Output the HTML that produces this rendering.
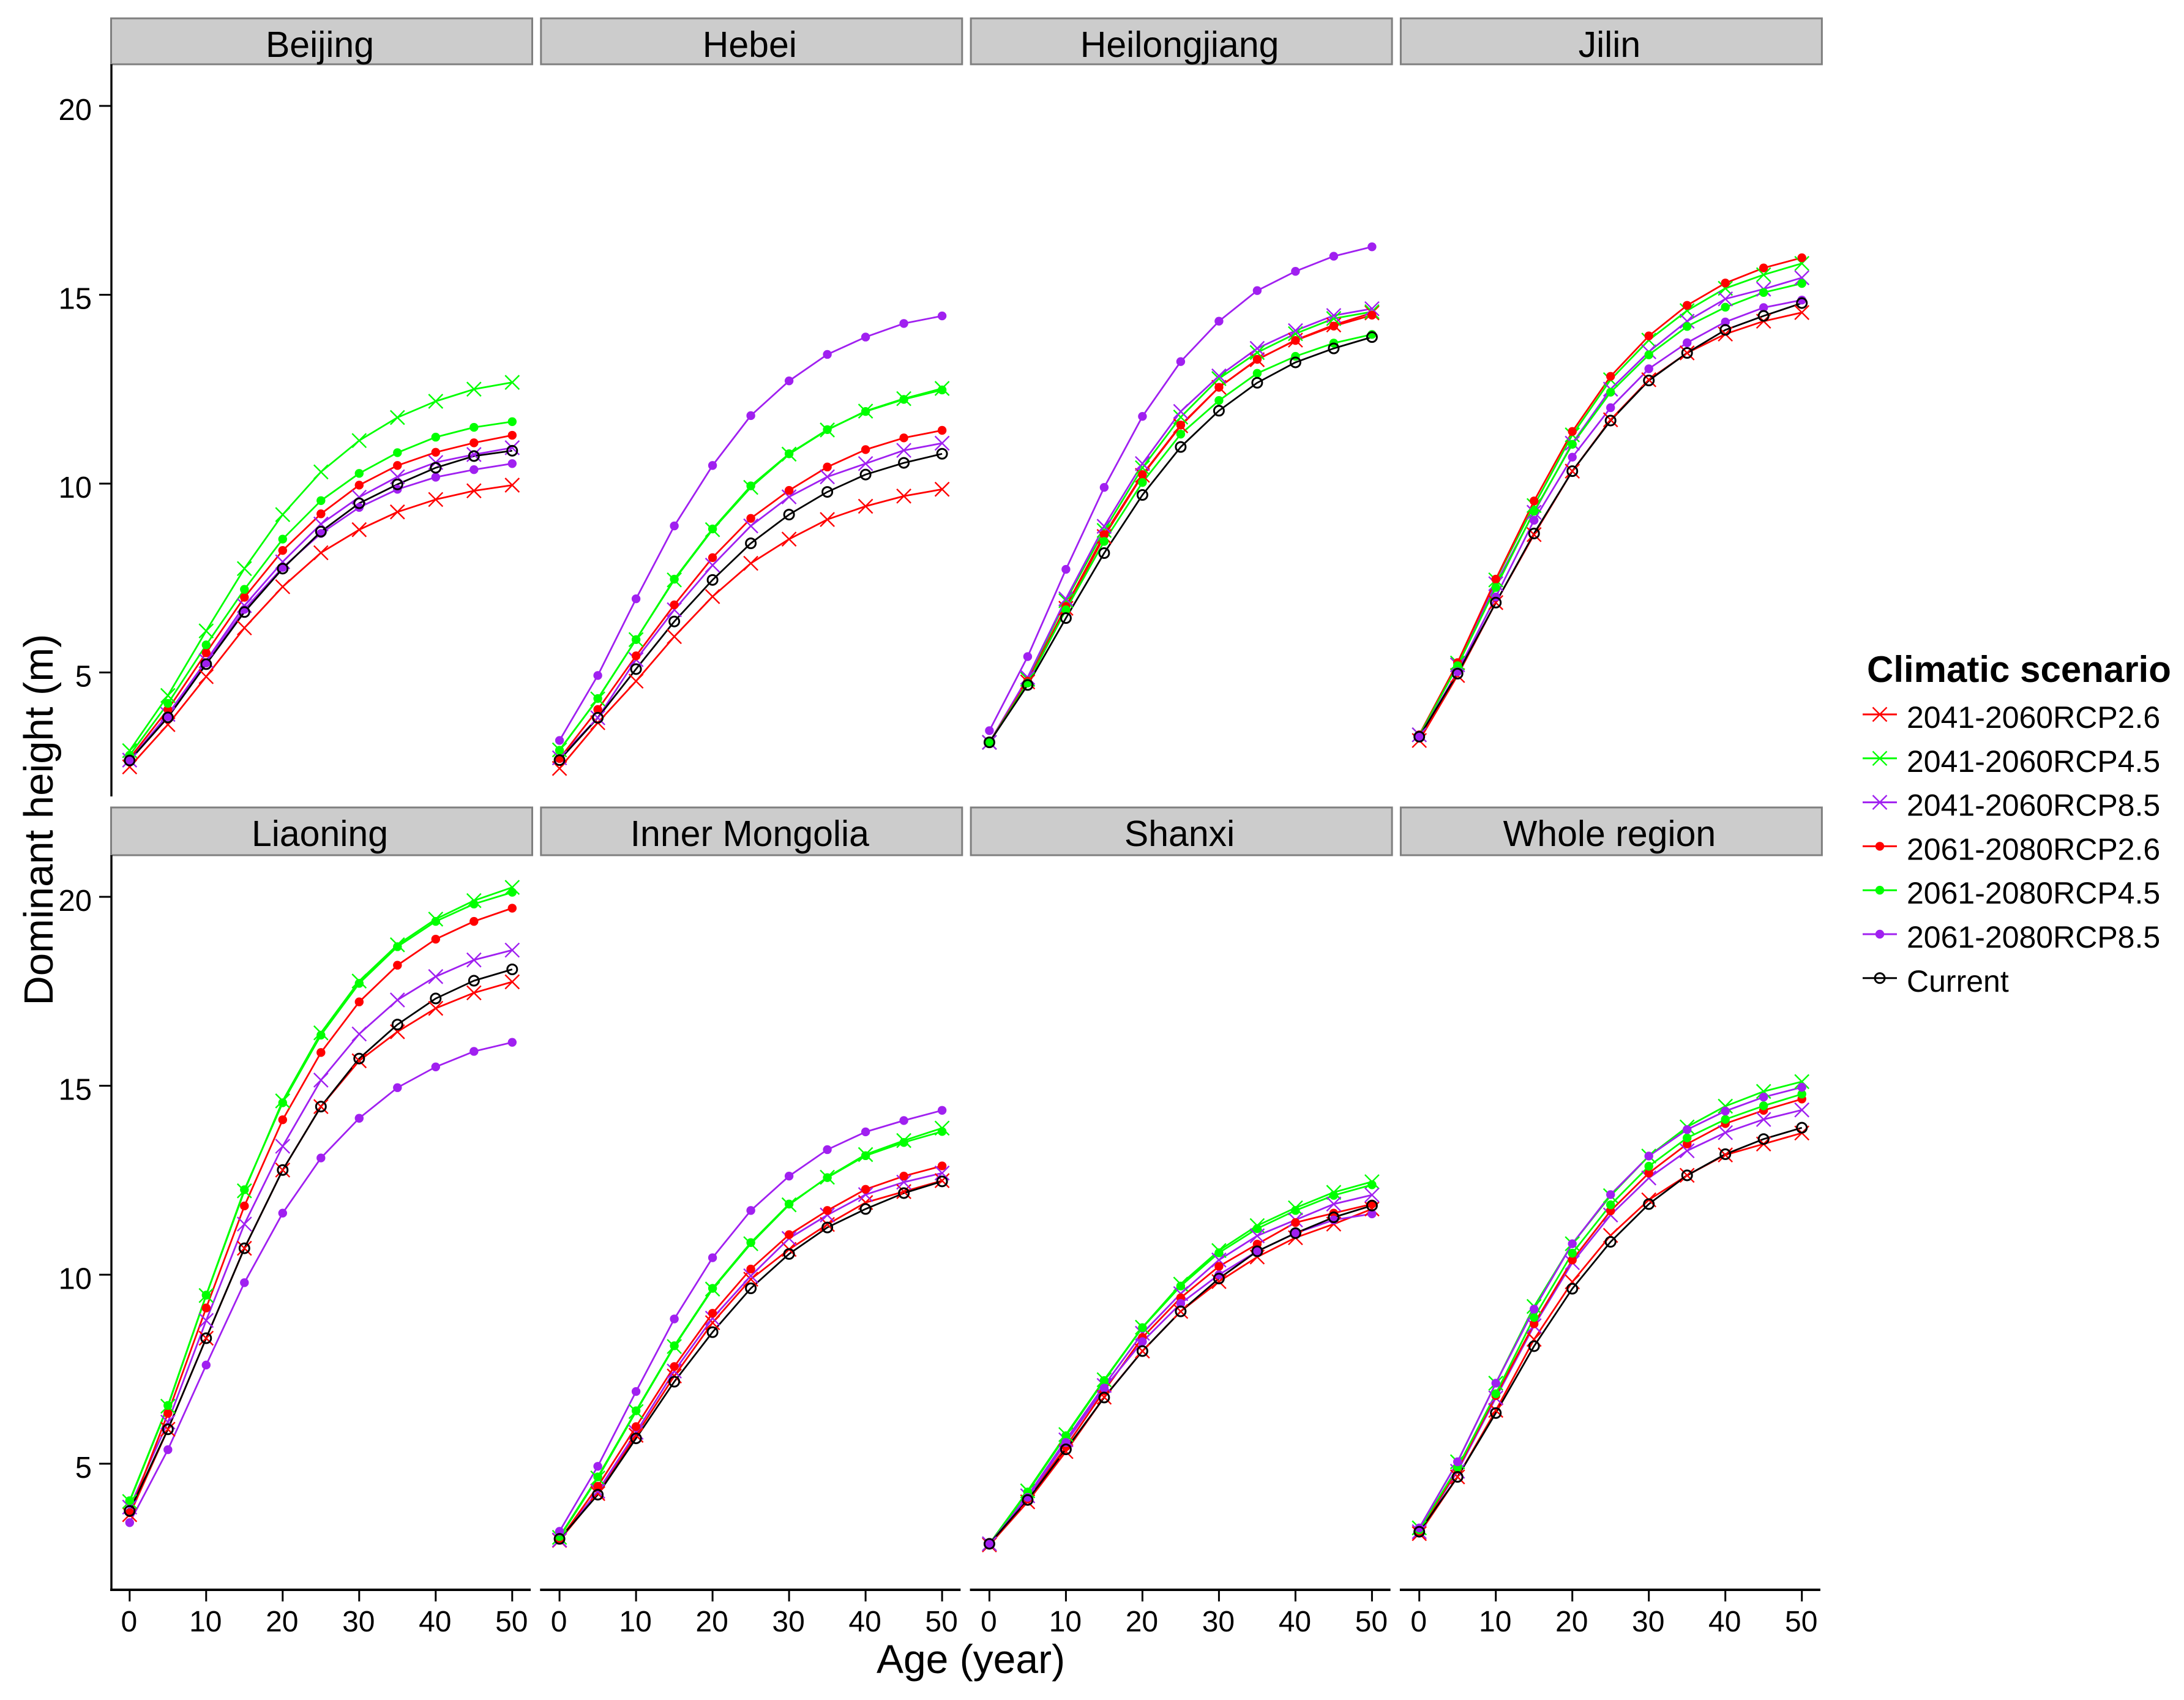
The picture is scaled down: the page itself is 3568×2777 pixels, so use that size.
<!DOCTYPE html>
<html lang="en">
<head>
<meta charset="utf-8">
<title>Dominant height by age and climatic scenario</title>
<style>
html,body{margin:0;padding:0;background:#fff;}
svg{display:block;font-family:"Liberation Sans",Arial,sans-serif;}
</style>
</head>
<body>
<svg id="chart" xmlns="http://www.w3.org/2000/svg" width="3568" height="2777" viewBox="0 0 3568 2777"></svg>
<script>
const ages = [0,5,10,15,20,25,30,35,40,45,50];
const xTickLabels = [0,10,20,30,40,50];
const yTickLabels = [5,10,15,20];
const panelNames = ["Beijing","Hebei","Heilongjiang","Jilin","Liaoning","Inner Mongolia","Shanxi","Whole region"];
const scenarioNames = ["2041-2060RCP2.6","2041-2060RCP4.5","2041-2060RCP8.5","2061-2080RCP2.6","2061-2080RCP4.5","2061-2080RCP8.5","Current"];

const beijing41_26 = [2.5,3.62,4.89,6.18,7.27,8.17,8.78,9.25,9.58,9.81,9.96];
const beijing41_45 = [2.93,4.39,6.1,7.75,9.18,10.31,11.14,11.75,12.18,12.5,12.68];
const beijing41_85 = [2.68,3.89,5.31,6.77,7.93,8.93,9.64,10.18,10.56,10.77,10.95];
const beijing61_26 = [2.73,4.02,5.52,6.99,8.23,9.2,9.96,10.48,10.83,11.08,11.28];
const beijing61_45 = [2.81,4.18,5.73,7.2,8.53,9.55,10.27,10.82,11.23,11.49,11.64];
const beijing61_85 = [2.67,3.83,5.25,6.67,7.78,8.68,9.37,9.85,10.17,10.37,10.53];
const beijingNow   = [2.67,3.81,5.22,6.6,7.75,8.73,9.48,9.98,10.42,10.73,10.87];

const hebei41_26 = [2.46,3.67,4.77,5.95,7.01,7.89,8.53,9.05,9.4,9.67,9.85];
const hebei41_45 = [2.95,4.3,5.87,7.45,8.78,9.9,10.78,11.42,11.92,12.25,12.52];
const hebei41_85 = [2.74,3.8,5.34,6.66,7.84,8.88,9.65,10.18,10.53,10.88,11.07];
const hebei61_26 = [2.72,4.02,5.44,6.79,8.04,9.08,9.82,10.44,10.9,11.21,11.41];
const hebei61_45 = [2.94,4.31,5.87,7.47,8.8,9.94,10.79,11.43,11.91,12.23,12.48];
const hebei61_85 = [3.2,4.92,6.95,8.88,10.48,11.8,12.72,13.42,13.88,14.24,14.44];
const hebeiNow   = [2.68,3.8,5.09,6.35,7.45,8.42,9.18,9.78,10.24,10.55,10.79];

const heilong41_26 = [3.15,4.75,6.7,8.6,10.22,11.53,12.55,13.28,13.8,14.2,14.52];
const heilong41_45 = [3.15,4.82,6.9,8.76,10.42,11.76,12.78,13.47,13.97,14.37,14.55];
const heilong41_85 = [3.15,4.87,6.95,8.87,10.53,11.91,12.85,13.58,14.05,14.45,14.63];
const heilong61_26 = [3.15,4.77,6.75,8.65,10.24,11.55,12.55,13.29,13.79,14.17,14.46];
const heilong61_45 = [3.15,4.72,6.66,8.47,10.03,11.31,12.2,12.92,13.37,13.72,13.95];
const heilong61_85 = [3.46,5.42,7.73,9.9,11.78,13.23,14.3,15.11,15.62,16.02,16.27];
const heilongNow   = [3.15,4.67,6.44,8.16,9.7,10.97,11.93,12.67,13.21,13.58,13.88];

const jilin41_26 = [3.2,4.92,6.85,8.65,10.33,11.69,12.75,13.46,13.96,14.3,14.53];
const jilin41_45 = [3.35,5.25,7.45,9.42,11.29,12.75,13.8,14.58,15.17,15.53,15.83];
const jilin41_85 = [3.35,5.2,7.35,9.24,11.07,12.5,13.49,14.3,14.89,15.15,15.45];
const jilin61_26 = [3.35,5.26,7.47,9.54,11.38,12.84,13.91,14.72,15.31,15.71,15.98];
const jilin61_45 = [3.33,5.18,7.25,9.27,11.04,12.42,13.41,14.16,14.67,15.06,15.3];
const jilin61_85 = [3.3,5.02,7.0,9.03,10.7,12.01,13.04,13.73,14.28,14.66,14.86];
const jilinNow   = [3.3,4.97,6.85,8.68,10.33,11.67,12.73,13.46,14.07,14.44,14.78];

const liaoning41_26 = [3.65,5.91,8.32,10.7,12.77,14.45,15.66,16.43,17.05,17.46,17.75];
const liaoning41_45 = [4.0,6.52,9.45,12.22,14.6,16.4,17.77,18.73,19.41,19.9,20.25];
const liaoning41_85 = [3.85,6.1,8.79,11.34,13.4,15.15,16.37,17.27,17.89,18.33,18.59];
const liaoning61_26 = [3.7,6.33,9.12,11.82,14.1,15.88,17.22,18.19,18.88,19.35,19.7];
const liaoning61_45 = [4.02,6.54,9.46,12.25,14.55,16.34,17.71,18.68,19.35,19.81,20.12];
const liaoning61_85 = [3.44,5.37,7.61,9.79,11.63,13.09,14.14,14.95,15.5,15.91,16.15];
const liaoningNow   = [3.75,5.91,8.32,10.7,12.77,14.45,15.72,16.62,17.31,17.78,18.08];

const mongolia41_26 = [2.97,4.21,5.75,7.32,8.73,9.88,10.67,11.33,11.91,12.2,12.49];
const mongolia41_45 = [3.05,4.62,6.38,8.1,9.62,10.82,11.85,12.58,13.18,13.55,13.88];
const mongolia41_85 = [2.98,4.27,5.83,7.45,8.85,9.97,10.96,11.58,12.12,12.45,12.69];
const mongolia61_26 = [2.98,4.4,5.98,7.57,8.98,10.15,11.06,11.7,12.26,12.61,12.88];
const mongolia61_45 = [3.07,4.65,6.4,8.12,9.64,10.85,11.87,12.57,13.15,13.5,13.79];
const mongolia61_85 = [3.21,4.93,6.91,8.83,10.45,11.7,12.61,13.31,13.78,14.08,14.35];
const mongoliaNow   = [3.01,4.18,5.67,7.17,8.48,9.64,10.55,11.25,11.74,12.16,12.47];

const shanxi41_26 = [2.85,3.99,5.32,6.76,7.98,9.03,9.82,10.47,10.98,11.34,11.74];
const shanxi41_45 = [2.88,4.28,5.77,7.22,8.61,9.75,10.64,11.3,11.77,12.18,12.46];
const shanxi41_85 = [2.88,4.15,5.63,7.07,8.45,9.5,10.39,11.03,11.45,11.87,12.11];
const shanxi61_26 = [2.88,4.07,5.45,6.93,8.34,9.39,10.22,10.81,11.38,11.63,11.87];
const shanxi61_45 = [2.88,4.25,5.74,7.2,8.6,9.7,10.58,11.22,11.7,12.1,12.38];
const shanxi61_85 = [2.88,4.11,5.56,7.0,8.23,9.24,10.0,10.62,11.1,11.45,11.61];
const shanxiNow   = [2.88,4.04,5.38,6.75,7.98,9.03,9.9,10.62,11.1,11.52,11.83];

const whole41_26 = [3.15,4.65,6.41,8.29,9.81,11.04,11.98,12.63,13.17,13.46,13.75];
const whole41_45 = [3.3,5.05,7.13,9.16,10.82,12.09,13.14,13.91,14.46,14.85,15.11];
const whole41_85 = [3.2,4.8,6.74,8.65,10.32,11.58,12.56,13.28,13.76,14.11,14.36];
const whole61_26 = [3.2,4.85,6.8,8.7,10.39,11.69,12.69,13.46,14.0,14.35,14.65];
const whole61_45 = [3.25,4.9,6.85,8.87,10.57,11.85,12.87,13.62,14.11,14.47,14.78];
const whole61_85 = [3.3,5.05,7.13,9.09,10.82,12.12,13.14,13.84,14.33,14.7,14.96];
const wholeNow   = [3.2,4.65,6.34,8.11,9.63,10.87,11.87,12.63,13.19,13.59,13.89];

const panelSeries = [
  [beijing41_26,beijing41_45,beijing41_85,beijing61_26,beijing61_45,beijing61_85,beijingNow],
  [hebei41_26,hebei41_45,hebei41_85,hebei61_26,hebei61_45,hebei61_85,hebeiNow],
  [heilong41_26,heilong41_45,heilong41_85,heilong61_26,heilong61_45,heilong61_85,heilongNow],
  [jilin41_26,jilin41_45,jilin41_85,jilin61_26,jilin61_45,jilin61_85,jilinNow],
  [liaoning41_26,liaoning41_45,liaoning41_85,liaoning61_26,liaoning61_45,liaoning61_85,liaoningNow],
  [mongolia41_26,mongolia41_45,mongolia41_85,mongolia61_26,mongolia61_45,mongolia61_85,mongoliaNow],
  [shanxi41_26,shanxi41_45,shanxi41_85,shanxi61_26,shanxi61_45,shanxi61_85,shanxiNow],
  [whole41_26,whole41_45,whole41_85,whole61_26,whole61_45,whole61_85,wholeNow]
];

const NS = "http://www.w3.org/2000/svg";
const svg = document.getElementById("chart");
const colors = ["#ff0000","#00ff00","#a020f0","#ff0000","#00ff00","#a020f0","#000000"];
const shapes = ["x","x","x","dot","dot","dot","circle"];

function make(tag, attrs, parent, text){
  const n = document.createElementNS(NS, tag);
  for (const k in attrs) n.setAttribute(k, attrs[k]);
  if (text !== undefined) n.textContent = text;
  (parent || svg).appendChild(n);
  return n;
}
function slug(s){ return s.toLowerCase().replace(/[^a-z0-9]+/g,"-"); }
function panelLeft(col){ return 182 + 702.3*col; }
function xScale(col, age){ return panelLeft(col) + 29.8 + 12.5*age; }
function yScale(row, v){ return row === 0 ? 173 + (20-v)*61.7 : 1465 + (20-v)*61.73; }

function drawMarker(parent, shape, cx, cy, color, scenario){
  let g;
  if (shape === "x"){
    const a = 11.5;
    g = make("path", {d:`M${cx-a} ${cy-a}L${cx+a} ${cy+a}M${cx-a} ${cy+a}L${cx+a} ${cy-a}`, stroke:color, "stroke-width":2.4, fill:"none"}, parent);
  } else if (shape === "dot"){
    g = make("circle", {cx:cx, cy:cy, r:7.2, fill:color}, parent);
  } else {
    g = make("circle", {cx:cx, cy:cy, r:8, fill:"none", stroke:color, "stroke-width":3}, parent);
  }
  
  
}

const panelRows = [0,0,0,0,1,1,1,1];
const stripTop = [30,1319];
const stripH = [75,78];
const textBase = [93,1382];
const panelTop = [105,1397];
const panelBottom = [1301,2597];

panelNames.forEach(function(name, i){
  const col = i % 4;
  const row = panelRows[i];
  const L = panelLeft(col);
  const panel = make("g", {});
  
  

  const strip = make("rect", {x:L-0.5, y:stripTop[row], width:688, height:stripH[row], fill:"#cccccc", stroke:"#7f7f7f", "stroke-width":3}, panel);
  
  

  const title = make("text", {x:L+340.5, y:textBase[row], "text-anchor":"middle", "font-size":59, fill:"#000"}, panel, name);
  
  

  if (col === 0){
    const yAxis = make("line", {x1:L, x2:L, y1:panelTop[row], y2:panelBottom[row]+(row===1?2:0), stroke:"#000", "stroke-width":3.4}, panel);
    
    
    yTickLabels.forEach(function(t){
      const y = yScale(row, t);
      const tick = make("line", {x1:L-20, x2:L, y1:y, y2:y, stroke:"#000", "stroke-width":3}, panel);
      
      
      const lab = make("text", {x:150, y:y+23, "text-anchor":"end", "font-size":49, fill:"#000"}, panel, String(t));
      
      
    });
  }

  if (row === 1){
    const xAxis = make("line", {x1:L-2, x2:L+685, y1:2597, y2:2597, stroke:"#000", "stroke-width":4}, panel);
    
    
    xTickLabels.forEach(function(t){
      const x = xScale(col, t);
      const tick = make("line", {x1:x, x2:x, y1:2597, y2:2616, stroke:"#000", "stroke-width":3}, panel);
      
      
      const lab = make("text", {x:x-1, y:2665, "text-anchor":"middle", "font-size":48, fill:"#000"}, panel, String(t));
      
      
    });
  }

  panelSeries[i].forEach(function(vals, s){
    const pts = vals.map(function(v, k){ return xScale(col, ages[k]).toFixed(1) + "," + yScale(row, v).toFixed(1); }).join(" ");
    const line = make("polyline", {points:pts, fill:"none", stroke:colors[s], "stroke-width":2.8, "stroke-linejoin":"round"}, panel);
    
    
  });
  panelSeries[i].forEach(function(vals, s){
    vals.forEach(function(v, k){
      drawMarker(panel, shapes[s], xScale(col, ages[k]), yScale(row, v), colors[s], scenarioNames[s]);
    });
  });
});

const yTitle = make("text", {transform:"translate(86,1339) rotate(-90)", "text-anchor":"middle", "font-size":67, fill:"#000"}, svg, "Dominant height (m)");



const xTitle = make("text", {x:1586, y:2733, "text-anchor":"middle", "font-size":66, fill:"#000"}, svg, "Age (year)");



const legend = make("g", {});



const legendTitle = make("text", {x:3050, y:1114, "font-size":60, "font-weight":"bold", fill:"#000"}, legend, "Climatic scenario");



scenarioNames.forEach(function(name, s){
  const y = 1167 + 71.8*s;
  const entry = make("g", {}, legend);
  
  
  const key = make("line", {x1:3043, x2:3099, y1:y, y2:y, stroke:colors[s], "stroke-width":3}, entry);
  
  
  drawMarker(entry, shapes[s], 3071, y, colors[s], name);
  const lab = make("text", {x:3115, y:y+22, "font-size":50, fill:"#000"}, entry, name);
  
  
});
</script>
</body>
</html>
